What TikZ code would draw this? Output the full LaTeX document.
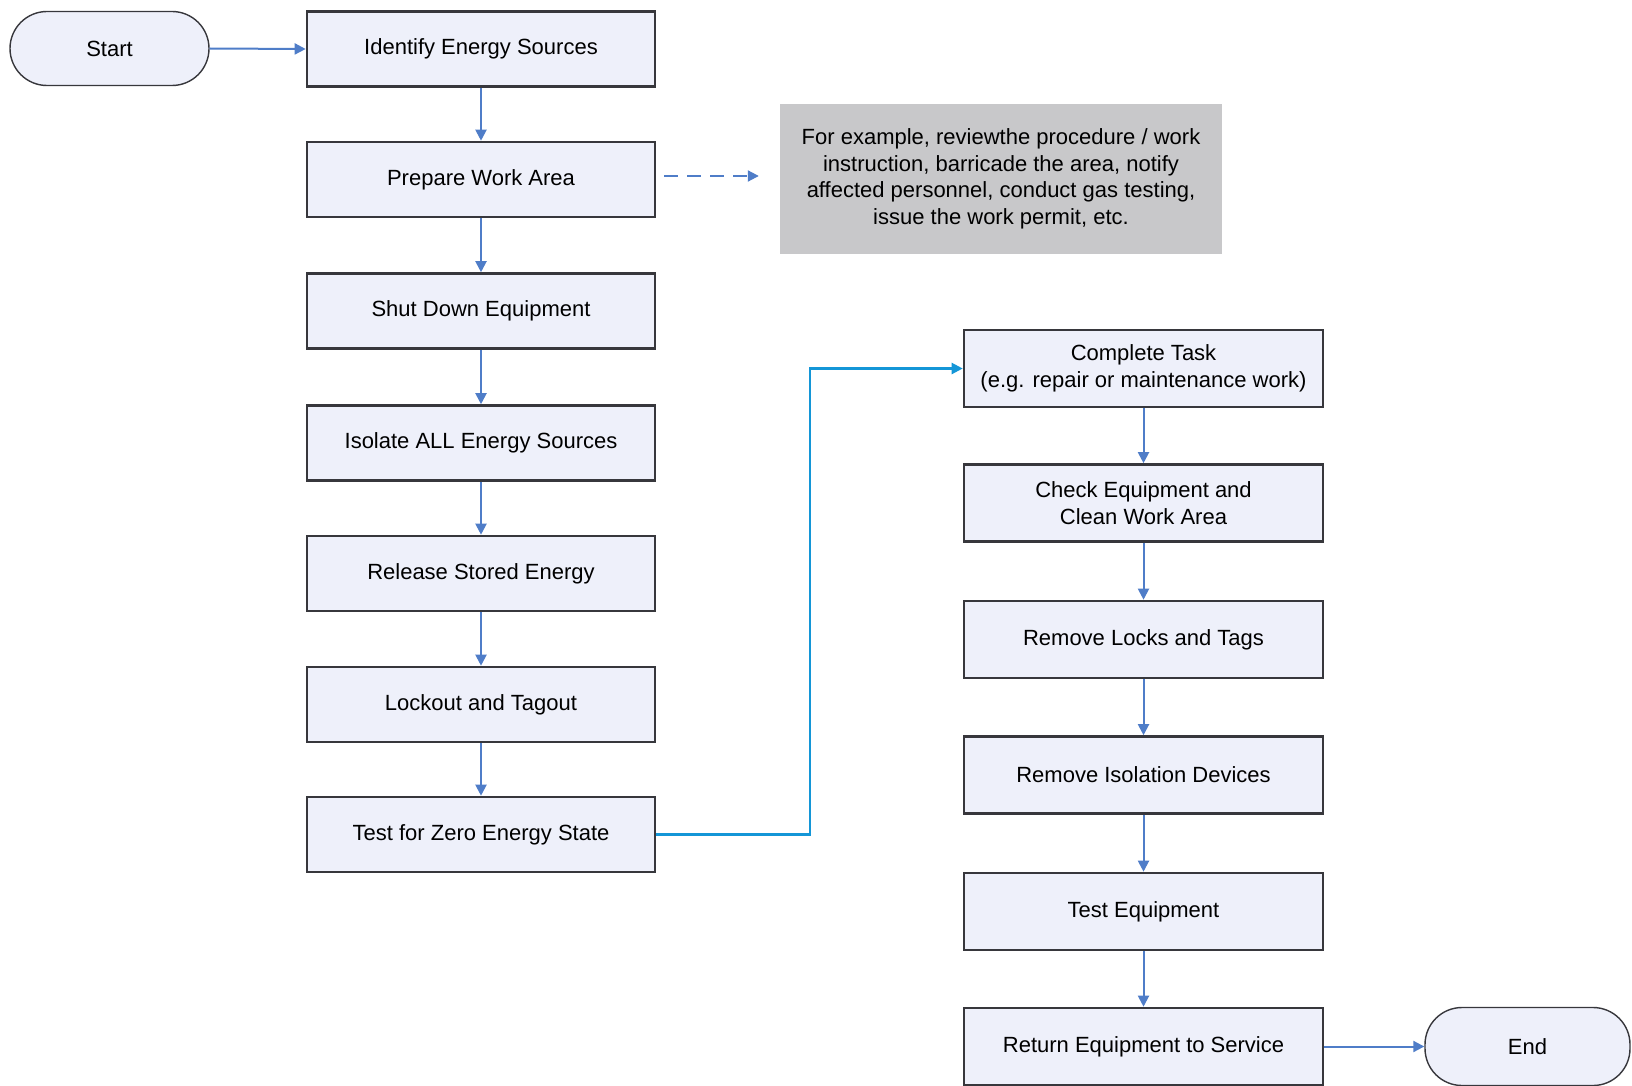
\documentclass[tikz,border=0pt]{standalone}
\usepackage{fontspec}
\setmainfont{Liberation Sans}
\usetikzlibrary{arrows.meta,calc}
\definecolor{boxfill}{RGB}{238,240,250}
\definecolor{boxline}{RGB}{55,55,60}
\definecolor{arrowblue}{RGB}{79,125,200}
\definecolor{cyanline}{RGB}{20,150,215}
\definecolor{notefill}{RGB}{200,200,202}
\tikzset{
  stepbox/.style={draw=boxline, line width=2.6pt, fill=boxfill, minimum width=348pt, minimum height=75pt, inner sep=0pt, align=center, font=\fontsize{22}{27}\selectfont},
  rstepbox/.style={stepbox, minimum width=359pt, minimum height=77pt},
  termbox/.style={draw=boxline, line width=1.4pt, fill=boxfill, rounded corners=37pt, inner sep=0pt, align=center, font=\fontsize{22}{27}\selectfont},
  notebox/.style={fill=notefill, minimum width=442pt, minimum height=150pt, inner sep=0pt, align=center, font=\fontsize{22}{26.5}\selectfont},
  flow/.style={draw=arrowblue, line width=2pt, -{Triangle[width=11pt,length=11pt]}},
  dflow/.style={flow, dash pattern=on 14pt off 9pt},
  jump/.style={draw=cyanline, line width=2.2pt, -{Triangle[width=11pt,length=11pt]}}
}
\begin{document}
\begin{tikzpicture}[x=1pt,y=-1pt]
\useasboundingbox (0,0) rectangle (1632,1086);
% left column
\node[termbox, minimum width=199pt, minimum height=74pt] (start) at (109.5,48.5) {Start};
\node[stepbox] (s1) at (481,49) {Identify Energy Sources};
\node[stepbox] (s2) at (481,179.5) {Prepare Work Area};
\node[stepbox] (s3) at (481,311) {Shut Down Equipment};
\node[stepbox] (s4) at (481,443) {Isolate ALL Energy Sources};
\node[stepbox] (s5) at (481,573.5) {Release Stored Energy};
\node[stepbox] (s6) at (481,704.5) {Lockout and Tagout};
\node[stepbox] (s7) at (481,834.5) {Test for Zero Energy State};
% note
\node[notebox] (note) at (1001,179) {For example, reviewthe procedure / work\\instruction, barricade the area, notify\\affected personnel, conduct gas testing,\\issue the work permit, etc.};
% right column
\node[rstepbox] (r1) at (1143.5,368.5) {Complete Task\\(e.g. repair or maintenance work)};
\node[rstepbox] (r2) at (1143.5,503) {Check Equipment and\\Clean Work Area};
\node[rstepbox] (r3) at (1143.5,639.5) {Remove Locks and Tags};
\node[rstepbox] (r4) at (1143.5,775) {Remove Isolation Devices};
\node[rstepbox] (r5) at (1143.5,911.5) {Test Equipment};
\node[rstepbox] (r6) at (1143.5,1046.5) {Return Equipment to Service};
\node[termbox, minimum width=205pt, minimum height=78pt] (end) at (1527.5,1046.5) {End};
% connectors
\draw[flow] (start.east) -- (s1.west);
\draw[flow] (s1) -- (s2);
\draw[flow] (s2) -- (s3);
\draw[flow] (s3) -- (s4);
\draw[flow] (s4) -- (s5);
\draw[flow] (s5) -- (s6);
\draw[flow] (s6) -- (s7);
\draw[dflow] ([xshift=8pt,yshift=3.5pt]s2.east) -- ([xshift=-21pt,yshift=3pt]note.west);
\draw[jump] (s7.east) -- ++(154,0) |- (r1.west);
\draw[flow] (r1) -- (r2);
\draw[flow] (r2) -- (r3);
\draw[flow] (r3) -- (r4);
\draw[flow] (r4) -- (r5);
\draw[flow] (r5) -- (r6);
\draw[flow] (r6.east) -- (end.west);
\end{tikzpicture}
\end{document}
